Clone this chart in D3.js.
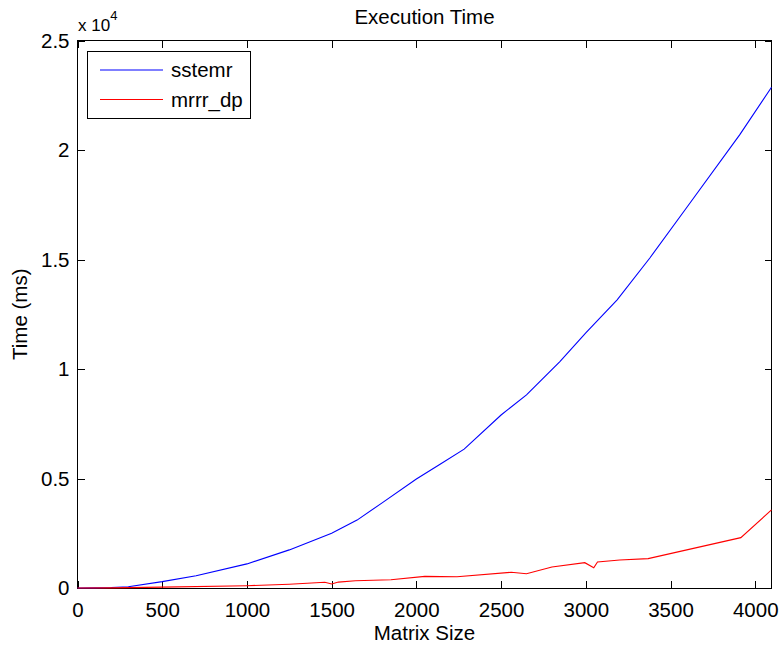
<!DOCTYPE html>
<html>
<head>
<meta charset="utf-8">
<script src="https://cdn.jsdelivr.net/npm/d3@7"></script>
<style>
	body { margin: 0; background: #fff; }
	svg { display: block; font-family: 'Liberation Sans', Arial, Helvetica, sans-serif; }
	.axis path, .axis line { stroke: #000; shape-rendering: crispEdges; }
	.axis text { font-size: 20.5px; fill: #000; }
</style>
</head>
<body>
<div id="chart"></div>
<script>
// matrix size vs. time (ms)
var sstemrSize = [0, 100, 200, 300, 500, 700, 1000, 1250, 1500, 1650, 1800, 2000, 2140, 2282, 2500, 2650, 2847, 3000, 3185, 3378, 3600, 3909, 4096]
var sstemrTime = [0, 5, 20, 60, 290, 560, 1100, 1740, 2500, 3100, 3900, 4980, 5650, 6340, 7900, 8820, 10340, 11650, 13160, 15070, 17420, 20700, 22866]

var mrrrSize = [0, 200, 500, 1000, 1250, 1460, 1500, 1540, 1640, 1850, 2050, 2240, 2560, 2650, 2800, 2994, 3047, 3069, 3200, 3368, 3915, 4096]
var mrrrTime = [0, 5, 40, 105, 170, 260, 185, 270, 330, 380, 530, 515, 720, 654, 960, 1156, 928, 1188, 1280, 1340, 2300, 3565]

var xTicks = [0, 500, 1000, 1500, 2000, 2500, 3000, 3500, 4000]
var yTicks = [0, 5000, 10000, 15000, 20000, 25000]

var seriesNames = ['sstemr', 'mrrr_dp']
var seriesColors = ['#0000ff', '#ff0000']

var W = 781
var H = 645
var margin = { 'top' : 40.5, 'right' : 9.5, 'bottom' : 57, 'left' : 77.5 }
var plotW = W - margin.left - margin.right
var plotH = H - margin.top - margin.bottom

var svg = d3.select('#chart').append('svg')
	.attr('width', W)
	.attr('height', H)

var xScale = d3.scaleLinear()
	.domain([0, 4096])
	.range([0, plotW])

var yScale = d3.scaleLinear()
	.domain([0, 25000])
	.range([plotH, 0])

var g = svg.append('g')
	.attr('transform', 'translate('+margin.left+','+margin.top+')')

var tickLen = 7

// bottom / left axes with inward ticks
g.append('g')
	.attr('class', 'axis')
	.attr('transform', 'translate(0,'+plotH+')')
	.call(d3.axisBottom(xScale).tickValues(xTicks).tickSizeInner(-tickLen).tickSizeOuter(0).tickPadding(14)
		.tickFormat(d3.format('d')))
	.call(function(a) { a.select('.domain').remove() })

g.append('g')
	.attr('class', 'axis')
	.call(d3.axisLeft(yScale).tickValues(yTicks).tickSizeInner(-tickLen).tickSizeOuter(0).tickPadding(8)
		.tickFormat(function(d) { return d3.format('~g')(d / 10000) }))
	.call(function(a) { a.select('.domain').remove() })

// mirrored ticks on top / right
g.append('g')
	.attr('class', 'axis')
	.call(d3.axisTop(xScale).tickValues(xTicks).tickSizeInner(-tickLen).tickSizeOuter(0).tickFormat(''))
	.call(function(a) { a.select('.domain').remove() })

g.append('g')
	.attr('class', 'axis')
	.attr('transform', 'translate('+plotW+',0)')
	.call(d3.axisRight(yScale).tickValues(yTicks).tickSizeInner(-tickLen).tickSizeOuter(0).tickFormat(''))
	.call(function(a) { a.select('.domain').remove() })

// box
g.append('rect')
	.attr('width', plotW)
	.attr('height', plotH)
	.attr('fill', 'none')
	.attr('stroke', '#000')
	.attr('stroke-width', 1)
	.attr('shape-rendering', 'crispEdges')

var line = d3.line()
	.x(function(d) { return xScale(d[0]) })
	.y(function(d) { return yScale(d[1]) })

var seriesData = [
	d3.zip(sstemrSize, sstemrTime),
	d3.zip(mrrrSize, mrrrTime)
]

g.selectAll('.series')
	.data(seriesData)
	.enter().append('path')
	.attr('class', 'series')
	.attr('d', line)
	.attr('fill', 'none')
	.attr('stroke', function(d, i) { return seriesColors[i] })
	.attr('stroke-width', 1.1)

// title, labels, exponent
svg.append('text')
	.attr('x', margin.left + plotW/2)
	.attr('y', 24)
	.attr('text-anchor', 'middle')
	.attr('font-size', 20.5)
	.text('Execution Time')

svg.append('text')
	.attr('x', margin.left + plotW/2)
	.attr('y', 640)
	.attr('text-anchor', 'middle')
	.attr('font-size', 20.5)
	.text('Matrix Size')

svg.append('text')
	.attr('transform', 'translate(27,'+(margin.top + plotH/2)+') rotate(-90)')
	.attr('text-anchor', 'middle')
	.attr('font-size', 20.5)
	.text('Time (ms)')

var expo = svg.append('text')
	.attr('x', 78)
	.attr('y', 31)
	.attr('font-size', 17)
expo.append('tspan').text('x 10')
expo.append('tspan').attr('font-size', 13).attr('dy', -11).text('4')

// legend
var legend = svg.append('g')
	.attr('transform', 'translate(87,51)')

legend.append('rect')
	.attr('width', 163)
	.attr('height', 67)
	.attr('fill', '#fff')
	.attr('stroke', '#000')
	.attr('shape-rendering', 'crispEdges')

var items = legend.selectAll('.item')
	.data(seriesNames)
	.enter().append('g')
	.attr('class', 'item')
	.attr('transform', function(d, i) { return 'translate(0,'+(19 + i*29.5)+')' })

items.append('line')
	.attr('x1', 13)
	.attr('x2', 76)
	.attr('stroke', function(d, i) { return seriesColors[i] })
	.attr('stroke-width', 1.1)

items.append('text')
	.attr('x', 84)
	.attr('y', 7)
	.attr('font-size', 20.5)
	.text(function(d) { return d })
</script>
</body>
</html>
